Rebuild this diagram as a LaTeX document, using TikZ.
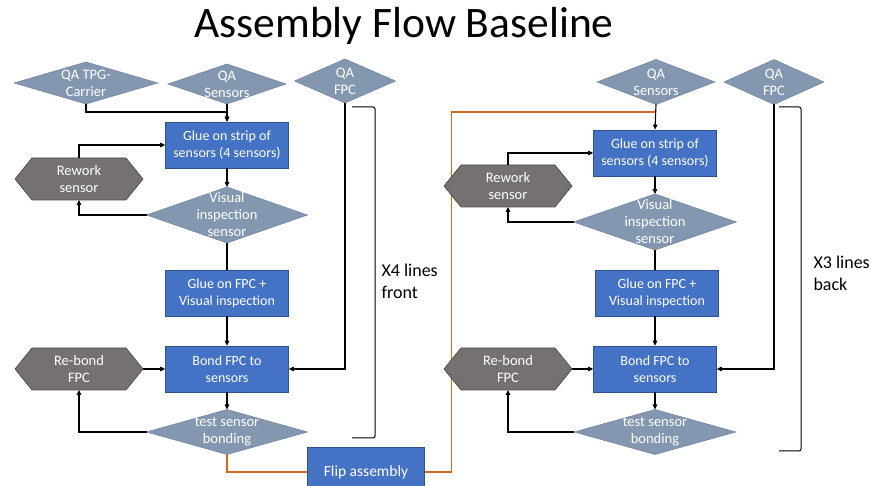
\documentclass[tikz,border=0pt]{standalone}
\usepackage{fontspec}
\setmainfont{Carlito}
\usetikzlibrary{arrows.meta,positioning,calc,shapes.geometric,shapes.symbols}
\definecolor{procblue}{HTML}{4472C4}
\definecolor{procedge}{HTML}{2F528F}
\definecolor{qafill}{HTML}{8497B0}
\definecolor{qaedge}{HTML}{6F82A0}
\definecolor{redofill}{HTML}{767171}
\definecolor{redoedge}{HTML}{4F4B4B}
\definecolor{flipline}{HTML}{D2691E}
\tikzset{
  >={Triangle[length=5pt,width=4.5pt]},
  proc/.style={rectangle, draw=procedge, fill=procblue, text=white, line width=0.7pt,
    minimum width=123pt, minimum height=46pt, inner sep=0pt, align=center,
    font=\fontsize{14}{17}\selectfont},
  qa/.style={diamond, draw=qaedge, fill=qafill, line width=0.5pt, inner sep=0pt, outer sep=0pt},
  qatxt/.style={text=white, align=center, font=\fontsize{14.5}{17}\selectfont},
  redo/.style={signal, signal to=west and east, signal pointer angle=102, draw=redoedge,
    fill=redofill, text=white, line width=0.7pt, minimum width=128pt, minimum height=42pt,
    inner sep=0pt, outer sep=0pt, align=center, font=\fontsize{14.5}{17}\selectfont},
  ln/.style={line width=1.1pt},
  brace/.style={line width=1pt, rounded corners=2pt},
  side/.style={anchor=west, align=left, font=\fontsize{18}{22}\selectfont}
}
\begin{document}
\begin{tikzpicture}[x=1pt,y=-1pt]
    \useasboundingbox (0,0) rectangle (871,486);

    \node (title) at (404,26) {\fontsize{43.5}{48}\selectfont Assembly Flow Baseline};

    % === Front: x4 lines ===
    \node[qa, minimum width=144pt, minimum height=42pt,
      label={[qatxt]center:{QA TPG-\\Carrier}}] (tpg) at (86,83) {};
    \node[qa, minimum width=118pt, minimum height=40pt,
      label={[qatxt]center:{QA\\Sensors}}] (sensL) at (227,84) {};
    \node[qa, minimum width=101pt, minimum height=44pt,
      label={[qatxt]center:{QA\\FPC}}] (fpcL) at (345,81) {};

    \node[proc] (glueL) at (227,145) {Glue on strip of\\sensors (4 sensors)};
    \node[redo] (rwL) at (79,179) {Rework\\sensor};
    \node[qa, minimum width=161pt, minimum height=56pt,
      label={[qatxt]center:{Visual\\inspection\\sensor}}] (visL) at (227,215) {};
    \node[proc] (gfpcL) at (227,293) {Glue on FPC +\\Visual inspection};
    \node[proc] (bondL) at (227,369) {Bond FPC to\\sensors};
    \node[redo] (rbL) at (79,369) {Re-bond\\FPC};
    \node[qa, minimum width=161pt, minimum height=45pt,
      label={[qatxt]center:{test sensor\\bonding}}] (testL) at (227,432) {};

    \draw[ln,->] (tpg.south) -- ++(0,8) -| (glueL.north);
    \draw[ln,->] (sensL.south) -- (glueL.north);
    \draw[ln,->] (glueL) -- (visL);
    \draw[ln,->] (visL.west) -| (rwL.south);
    \draw[ln,->] (rwL.north) |- (glueL.west);
    \draw[ln] (visL) -- (gfpcL);
    \draw[ln,->] (gfpcL) -- (bondL);
    \draw[ln,->] (fpcL.south) |- (bondL.east);
    \draw[ln,->] (rbL.east) -- (bondL.west);
    \draw[ln,->] (bondL) -- (testL);
    \draw[ln,->] (testL.west) -| (rbL.south);

    \draw[brace] (352,107) -- (375,107) -- (375,438) -- (352,438);
    \node[side] (frontL) at (378,281) {X4 lines\\front};

    % === Flip between front and back ===
    \node[proc, minimum width=117pt, minimum height=50pt,
      font=\fontsize{15.5}{18}\selectfont] (flip) at (366,472) {Flip assembly};
    \coordinate (joinR) at (655,112);
    \draw[ln, flipline] (testL.south) |- (flip.west);
    \draw[ln, flipline] (flip.east) -- ++(27,0) |- (joinR);

    % === Back: x3 lines ===
    \node[qa, minimum width=118pt, minimum height=45pt,
      label={[qatxt]center:{QA\\Sensors}}] (sensR) at (656,82) {};
    \node[qa, minimum width=100pt, minimum height=45pt,
      label={[qatxt]center:{QA\\FPC}}] (fpcR) at (774,82) {};

    \node[proc] (glueR) at (655,153) {Glue on strip of\\sensors (4 sensors)};
    \node[redo] (rwR) at (508,186) {Rework\\sensor};
    \node[qa, minimum width=163pt, minimum height=56pt,
      label={[qatxt]center:{Visual\\inspection\\sensor}}] (visR) at (655,222) {};
    \node[proc] (gfpcR) at (657,293) {Glue on FPC +\\Visual inspection};
    \node[proc] (bondR) at (655,369) {Bond FPC to\\sensors};
    \node[redo] (rbR) at (508,369) {Re-bond\\FPC};
    \node[qa, minimum width=162pt, minimum height=45pt,
      label={[qatxt]center:{test sensor\\bonding}}] (testR) at (655,432) {};

    \draw[ln,->] (sensR.south) -- (glueR.north);
    \draw[ln,->] (glueR) -- (visR);
    \draw[ln,->] (visR.west) -| (rwR.south);
    \draw[ln,->] (rwR.north) |- (glueR.west);
    \draw[ln] (visR) -- (visR |- gfpcR.north);
    \draw[ln,->] (bondR |- gfpcR.south) -- (bondR);
    \draw[ln,->] (fpcR.south) |- (bondR.east);
    \draw[ln,->] (rbR.east) -- (bondR.west);
    \draw[ln,->] (bondR) -- (testR);
    \draw[ln,->] (testR.west) -| (rbR.south);

    \draw[brace] (779,107) -- (801,107) -- (801,451) -- (779,451);
    \node[side] (backR) at (810,273) {X3 lines\\back};

\end{tikzpicture}
\end{document}
